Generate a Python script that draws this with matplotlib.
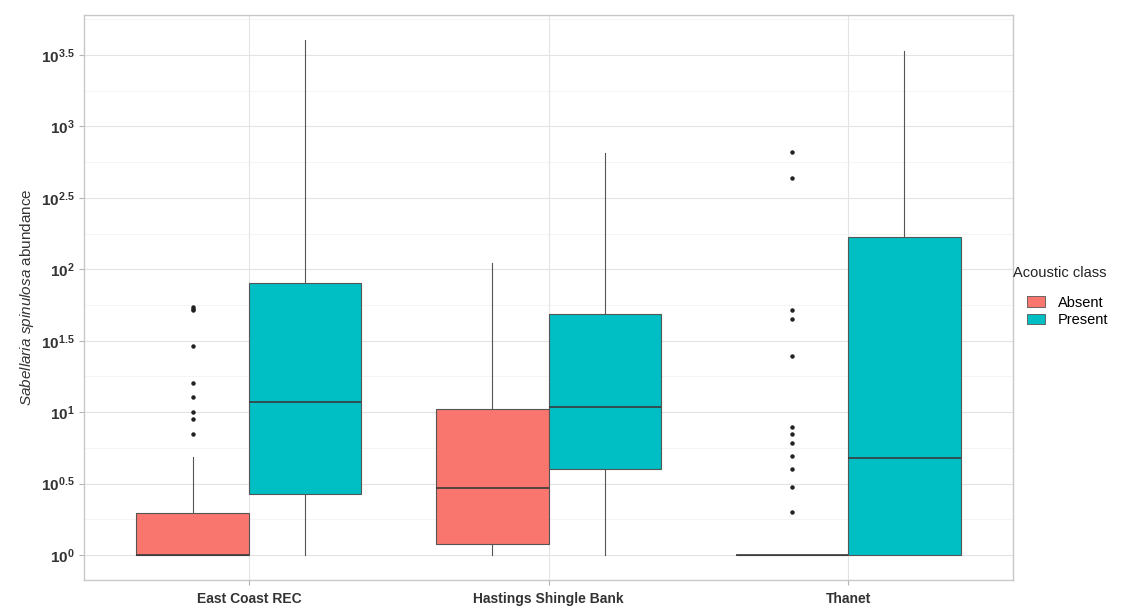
import numpy as np
import matplotlib.pyplot as plt
from matplotlib.patches import Patch, Rectangle
from matplotlib.legend_handler import HandlerPatch

plt.rcParams['font.family'] = ['Liberation Sans', 'DejaVu Sans']
plt.rcParams['mathtext.fontset'] = 'custom'
plt.rcParams['mathtext.rm'] = 'Liberation Sans:bold'
plt.rcParams['mathtext.it'] = 'Liberation Sans:italic'
plt.rcParams['mathtext.bf'] = 'Liberation Sans:bold'

# data (log10 of abundance)
sites = ["East Coast REC", "Hastings Shingle Bank", "Thanet"]
classes = ["Absent", "Present"]
colors = ["#F8766D", "#00BFC4"]

# per site: [Absent, Present]
whislo = [[0.0, 0.0], [0.0, 0.0], [0.0, 0.0]]
q1 = [[0.0, 0.427], [0.075, 0.602], [0.0, 0.0]]
med = [[0.0, 1.071], [0.471, 1.036], [0.0, 0.677]]
q3 = [[0.294, 1.904], [1.022, 1.687], [0.0, 2.228]]
whishi = [[0.686, 3.605], [2.046, 2.814], [0.0, 3.53]]
outliers = [
    [[1.736, 1.722, 1.712, 1.463, 1.204, 1.106, 1.001, 0.952, 0.847], []],
    [[], []],
    [[2.823, 2.641, 1.715, 1.652, 1.395, 0.898, 0.845, 0.782, 0.693, 0.600, 0.478, 0.299], []],
]

ytick_pow = [0, 0.5, 1, 1.5, 2, 2.5, 3, 3.5]
ytick_labels = ["0", "0.5", "1", "1.5", "2", "2.5", "3", "3.5"]

fig = plt.figure(figsize=(11.43, 6.11), dpi=100)
ax = fig.add_axes([0.0735, 0.0507, 0.8128, 0.9248])

for i in range(len(sites)):
    for j in range(len(classes)):
        st = dict(whislo=10 ** whislo[i][j], q1=10 ** q1[i][j], med=10 ** med[i][j],
                  q3=10 ** q3[i][j], whishi=10 ** whishi[i][j],
                  fliers=[10 ** v for v in outliers[i][j]])
        pos = i + 1 + (j - 0.5) * 0.375
        ax.bxp([st], positions=[pos], widths=0.375, patch_artist=True,
               showcaps=False, manage_ticks=False,
               boxprops=dict(facecolor=colors[j], edgecolor="#555555", linewidth=0.8),
               whiskerprops=dict(color="#555555", linewidth=0.8),
               medianprops=dict(color="#3a3a3a", linewidth=1.2),
               flierprops=dict(marker="o", markersize=2.2, markerfacecolor="#222222",
                               markeredgecolor="#222222", linestyle="none"),
               zorder=3)

ax.set_yscale("log")
ax.set_ylim(10 ** -0.175, 10 ** 3.78)
ax.set_xlim(0.45, 3.55)

ax.set_yticks([10 ** p for p in ytick_pow])
ax.set_yticklabels([r"$\mathbf{10^{%s}}$" % s for s in ytick_labels])
ax.set_yticks([10 ** (p + 0.25) for p in ytick_pow], minor=True)
ax.yaxis.set_minor_formatter(plt.NullFormatter())
ax.set_xticks([1, 2, 3])
ax.set_xticklabels(sites, fontweight="bold", fontsize=10, color="#222222")

ax.grid(True, which="major", color="#e3e3e3", linewidth=0.8, zorder=0)
ax.grid(True, which="minor", axis="y", color="#f0f0f0", linewidth=0.5, zorder=0)
ax.set_axisbelow(True)
for s in ax.spines.values():
    s.set_color("#c8c8c8")
    s.set_linewidth(1.0)
ax.tick_params(axis="both", which="major", color="#b3b3b3", length=3.5, width=0.8,
               labelcolor="#333333")
ax.tick_params(axis="y", which="major", labelsize=11)
ax.tick_params(axis="x", which="major", labelsize=10, pad=5)
ax.tick_params(axis="y", which="minor", length=0)

ax.set_ylabel(r"$\it{Sabellaria\ spinulosa}$ abundance", fontsize=11, color="#333333",
              labelpad=3)


# legend key: small box with whisker line, drawn indented in the handle area
def key_box(legend, orig_handle, xdescent, ydescent, width, height, fontsize):
    return Rectangle((-xdescent + width - 13, -ydescent + 1), 13, height - 2)


handles = [Patch(facecolor=colors[k], edgecolor="#555555", linewidth=0.6) for k in range(2)]
leg = fig.legend(handles, classes, title="Acoustic class", loc="center left",
                 bbox_to_anchor=(0.877, 0.515), frameon=False, fontsize=10.5,
                 title_fontsize=10.5, handlelength=2.2, handleheight=1.0,
                 handletextpad=0.9, labelspacing=0.2, borderpad=0.2,
                 handler_map={Patch: HandlerPatch(patch_func=key_box)})
leg._legend_box.align = "left"
leg._legend_box.sep = 11
leg.get_title().set_color("#222222")

fig.savefig("out.png", dpi=100)
